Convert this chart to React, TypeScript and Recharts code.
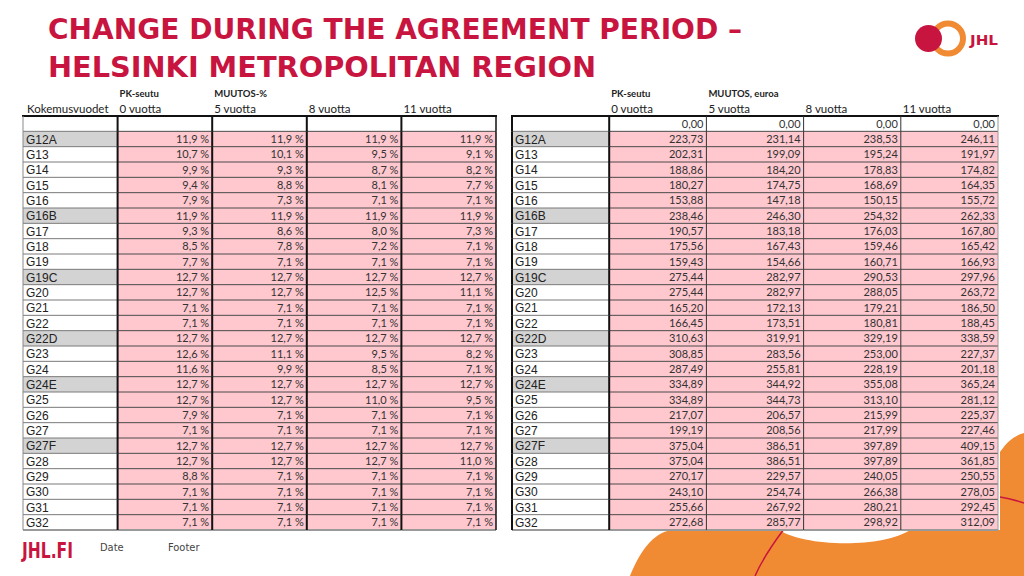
import { ScatterChart, Scatter, XAxis, YAxis } from "recharts";

// rows and columns of both tables
const rowNames = [
  "", "G12A", "G13", "G14", "G15", "G16", "G16B", "G17", "G18", "G19", "G19C",
  "G20", "G21", "G22", "G22D", "G23", "G24", "G24E", "G25", "G26", "G27",
  "G27F", "G28", "G29", "G30", "G31", "G32",
];
const greyRows = ["G12A", "G16B", "G19C", "G22D", "G24E", "G27F"];
const columnLabels = ["Kokemusvuodet", "0 vuotta", "5 vuotta", "8 vuotta", "11 vuotta"];
const pctSupra = ["", "PK-seutu", "MUUTOS-%", "", ""];
const eurSupra = ["", "PK-seutu", "MUUTOS, euroa", "", ""];

// MUUTOS-% (G12A .. G32)
const pct0 = [11.9, 10.7, 9.9, 9.4, 7.9, 11.9, 9.3, 8.5, 7.7, 12.7, 12.7, 7.1, 7.1, 12.7, 12.6, 11.6, 12.7, 12.7, 7.9, 7.1, 12.7, 12.7, 8.8, 7.1, 7.1, 7.1];
const pct5 = [11.9, 10.1, 9.3, 8.8, 7.3, 11.9, 8.6, 7.8, 7.1, 12.7, 12.7, 7.1, 7.1, 12.7, 11.1, 9.9, 12.7, 12.7, 7.1, 7.1, 12.7, 12.7, 7.1, 7.1, 7.1, 7.1];
const pct8 = [11.9, 9.5, 8.7, 8.1, 7.1, 11.9, 8.0, 7.2, 7.1, 12.7, 12.5, 7.1, 7.1, 12.7, 9.5, 8.5, 12.7, 11.0, 7.1, 7.1, 12.7, 12.7, 7.1, 7.1, 7.1, 7.1];
const pct11 = [11.9, 9.1, 8.2, 7.7, 7.1, 11.9, 7.3, 7.1, 7.1, 12.7, 11.1, 7.1, 7.1, 12.7, 8.2, 7.1, 12.7, 9.5, 7.1, 7.1, 12.7, 11.0, 7.1, 7.1, 7.1, 7.1];

// MUUTOS, euroa (G12A .. G32)
const eur0 = [223.73, 202.31, 188.86, 180.27, 153.88, 238.46, 190.57, 175.56, 159.43, 275.44, 275.44, 165.2, 166.45, 310.63, 308.85, 287.49, 334.89, 334.89, 217.07, 199.19, 375.04, 375.04, 270.17, 243.1, 255.66, 272.68];
const eur5 = [231.14, 199.09, 184.2, 174.75, 147.18, 246.3, 183.18, 167.43, 154.66, 282.97, 282.97, 172.13, 173.51, 319.91, 283.56, 255.81, 344.92, 344.73, 206.57, 208.56, 386.51, 386.51, 229.57, 254.74, 267.92, 285.77];
const eur8 = [238.53, 195.24, 178.83, 168.69, 150.15, 254.32, 176.03, 159.46, 160.71, 290.53, 288.05, 179.21, 180.81, 329.19, 253.0, 228.19, 355.08, 313.1, 215.99, 217.99, 397.89, 397.89, 240.05, 266.38, 280.21, 298.92];
const eur11 = [246.11, 191.97, 174.82, 164.35, 155.72, 262.33, 167.8, 165.42, 166.93, 297.96, 263.72, 186.5, 188.45, 338.59, 227.37, 201.18, 365.24, 281.12, 225.37, 227.46, 409.15, 361.85, 250.55, 278.05, 292.45, 312.09];

const RED = "#c8153f";
const ORANGE = "#f08a33";
const PINK = "#ffc7ce";
const GREY = "#d3d3d3";

const CHART_W = 510;
const CHART_H = 560;
const TOP = 116;
const BOTTOM = 530;
const ROW_H = (BOTTOM - TOP) / rowNames.length;

type CellDatum = {
  c: number;
  r: number;
  text: string;
  fill: string;
  isLabel: boolean;
};

const fmtPct = (v: number) => v.toFixed(1).replace(".", ",") + " %";
const fmtEur = (v: number) => v.toFixed(2).replace(".", ",");

function buildCells(cols: number[][], fmt: (v: number) => string, blankText: string) {
  const out: CellDatum[] = [];
  rowNames.forEach((name, r) => {
    out.push({
      c: 0,
      r,
      text: name,
      fill: greyRows.includes(name) ? GREY : "#ffffff",
      isLabel: true,
    });
    cols.forEach((series, ci) => {
      out.push({
        c: ci + 1,
        r,
        text: r === 0 ? blankText : fmt(series[r - 1]),
        fill: r === 0 ? "#ffffff" : PINK,
        isLabel: false,
      });
    });
  });
  return out;
}

const pctCells = buildCells([pct0, pct5, pct8, pct11], fmtPct, "");
const eurCells = buildCells([eur0, eur5, eur8, eur11], fmtEur, "0,00");

interface TableProps {
  data: CellDatum[];
  supra: string[];
  left: number;
  marginLeft: number;
  marginRight: number;
  heavyInner: boolean;
}

function DataTable({ data, supra, left, marginLeft, marginRight, heavyInner }: TableProps) {
  const plotW = CHART_W - marginLeft - marginRight;
  const cellW = plotW / columnLabels.length;
  const lastRow = rowNames.length - 1;

  const cellShape = (props: any) => {
    const { cx, cy, payload } = props;
    const x = cx - cellW / 2;
    const y = cy - ROW_H / 2;
    return (
      <g>
        <rect x={x} y={y} width={cellW} height={ROW_H} fill={payload.fill} />
        {payload.isLabel ? (
          <text x={x + 3} y={cy + 4.5} fontSize={12} fontFamily="Liberation Sans, Arial" fill="#222">
            {payload.text}
          </text>
        ) : (
          <text x={x + cellW - 3} y={cy + 4} fontSize={11} fontFamily="Lato, Calibri, sans-serif" fill="#333" textAnchor="end">
            {payload.text}
          </text>
        )}
      </g>
    );
  };

  const borderShape = (props: any) => {
    const { cx, cy, payload } = props;
    const x = cx - cellW / 2;
    const y = cy - ROW_H / 2;
    const c = payload.c;
    const r = payload.r;
    const lines = [];
    // row separator
    if (r < lastRow) {
      lines.push(
        <line key="h" x1={x} x2={x + cellW} y1={y + ROW_H} y2={y + ROW_H}
          stroke={c === 0 ? "#7a7a7a" : "#4a4a4a"} strokeWidth={1} />
      );
    } else {
      lines.push(<line key="b" x1={x} x2={x + cellW} y1={y + ROW_H} y2={y + ROW_H} stroke="#9a9a9a" strokeWidth={2} />);
    }
    if (r === 0) {
      lines.push(<line key="t" x1={x - 1} x2={x + cellW + 1} y1={y} y2={y} stroke="#111" strokeWidth={2} />);
    }
    // vertical borders
    if (c === 0) {
      lines.push(
        <line key="l" x1={x} x2={x} y1={y} y2={y + ROW_H}
          stroke={heavyInner ? "#8a8a8a" : "#111"} strokeWidth={heavyInner ? 1 : 2} />
      );
    } else {
      const heavy = heavyInner || c === 1;
      lines.push(
        <line key="l" x1={x} x2={x} y1={y} y2={y + ROW_H}
          stroke={heavy ? "#111" : "#333"} strokeWidth={heavy ? 2 : 1} />
      );
    }
    if (c === columnLabels.length - 1) {
      lines.push(
        <line key="r" x1={x + cellW} x2={x + cellW} y1={y} y2={y + ROW_H}
          stroke={heavyInner ? "#111" : "#9a9a9a"} strokeWidth={heavyInner ? 1.5 : 1} />
      );
    }
    return <g>{lines}</g>;
  };

  const headerTick = (props: any) => {
    const { x, payload } = props;
    const i = payload.value as number;
    const lx = x - cellW / 2 + (i === 0 ? 4 : 2);
    return (
      <g>
        {supra[i] ? (
          <text x={lx} y={97} fontSize={9.5} fontWeight={700} fontFamily="Lato, Calibri, sans-serif" fill="#222">
            {supra[i]}
          </text>
        ) : null}
        {i === 0 && !heavyInner ? null : (
          <text x={lx} y={113} fontSize={11.5} fontFamily="Lato, Calibri, sans-serif" fill="#222">
            {columnLabels[i]}
          </text>
        )}
      </g>
    );
  };

  return (
    <div style={{ position: "absolute", left, top: 0 }}>
      <ScatterChart
        width={CHART_W}
        height={CHART_H}
        margin={{ top: TOP - 1, right: marginRight, bottom: CHART_H - BOTTOM, left: marginLeft }}
      >
        <XAxis
          type="number"
          dataKey="c"
          orientation="top"
          domain={[-0.5, columnLabels.length - 0.5]}
          ticks={columnLabels.map((_, i) => i)}
          tick={headerTick}
          axisLine={false}
          tickLine={false}
          height={1}
          interval={0}
        />
        <YAxis
          type="number"
          dataKey="r"
          domain={[-0.5, rowNames.length - 0.5]}
          reversed
          hide
          width={0}
        />
        <Scatter data={data} shape={cellShape} isAnimationActive={false} />
        <Scatter data={data} shape={borderShape} isAnimationActive={false} />
      </ScatterChart>
    </div>
  );
}

export default function App() {
  return (
    <div
      style={{
        position: "absolute",
        left: 0,
        top: 0,
        width: 1024,
        height: 576,
        background: "#fff",
        overflow: "hidden",
      }}
    >
      <svg width={1024} height={576} style={{ position: "absolute", left: 0, top: 0 }}>
        {/* orange decoration bottom right */}
        <path d="M 630 576 C 640 552, 652 533, 672 530 L 1000 530 L 1000 452 C 1008 440, 1016 435, 1024 433 L 1024 576 Z" fill={ORANGE} />
        <path d="M 778 529 C 800 546, 880 550, 912 529 Z" fill="#fff" />
        <path d="M 784 529 C 772 545, 762 560, 755 576" stroke={RED} strokeWidth={1.5} fill="none" />
        <path d="M 1000 497 Q 1012 499 1024 503" stroke={RED} strokeWidth={1.5} fill="none" />

        {/* title */}
        <text x={48} y={39} fontSize={29} fontWeight={700} fontFamily="DejaVu Sans Condensed, DejaVu Sans" fill={RED}
          textLength={694} lengthAdjust="spacingAndGlyphs">
          CHANGE DURING THE AGREEMENT PERIOD –
        </text>
        <text x={48} y={77} fontSize={29} fontWeight={700} fontFamily="DejaVu Sans Condensed, DejaVu Sans" fill={RED}
          textLength={548} lengthAdjust="spacingAndGlyphs">
          HELSINKI METROPOLITAN REGION
        </text>

        {/* logo */}
        <circle cx={948} cy={38.5} r={15} fill="none" stroke={ORANGE} strokeWidth={6} />
        <circle cx={928.5} cy={38.5} r={13.5} fill={RED} />
        <text x={970} y={45} fontSize={14} fontWeight={700} fontFamily="DejaVu Sans" fill={RED} textLength={28} lengthAdjust="spacingAndGlyphs">
          JHL
        </text>

        {/* footer */}
        <text x={22} y={558} fontSize={22} fontWeight={700} fontFamily="DejaVu Sans Condensed, DejaVu Sans" fill={RED}
          textLength={51} lengthAdjust="spacingAndGlyphs">
          JHL.FI
        </text>
        <text x={100} y={551} fontSize={11} fontFamily="DejaVu Sans Condensed, DejaVu Sans" fill="#444">Date</text>
        <text x={168} y={551} fontSize={11} fontFamily="DejaVu Sans Condensed, DejaVu Sans" fill="#444">Footer</text>
      </svg>

      <DataTable data={pctCells} supra={pctSupra} left={0} marginLeft={23} marginRight={14} heavyInner />
      <DataTable data={eurCells} supra={eurSupra} left={500} marginLeft={12} marginRight={12} heavyInner={false} />
    </div>
  );
}
